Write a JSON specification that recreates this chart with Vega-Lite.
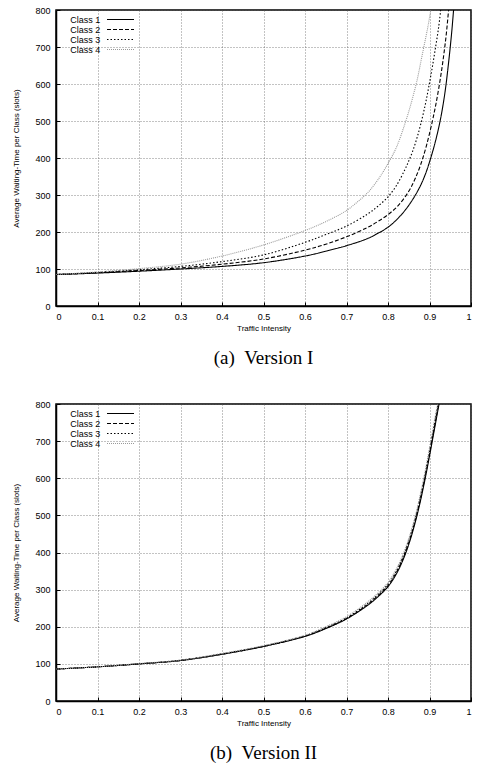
{
  "$schema": "https://vega.github.io/schema/vega-lite/v6.json",
  "padding": {"left": 12, "top": 5, "right": 5, "bottom": 0},
  "background": "white",
  "datasets": {
    "v1": [
      {"class": "Class 1", "x": 0, "y": 85}, {"class": "Class 1", "x": 0.1, "y": 89}, {"class": "Class 1", "x": 0.2, "y": 94}, {"class": "Class 1", "x": 0.3, "y": 100}, {"class": "Class 1", "x": 0.4, "y": 107}, {"class": "Class 1", "x": 0.5, "y": 117}, {"class": "Class 1", "x": 0.6, "y": 135}, {"class": "Class 1", "x": 0.65, "y": 148}, {"class": "Class 1", "x": 0.7, "y": 163}, {"class": "Class 1", "x": 0.75, "y": 182}, {"class": "Class 1", "x": 0.775, "y": 196}, {"class": "Class 1", "x": 0.8, "y": 213}, {"class": "Class 1", "x": 0.825, "y": 238}, {"class": "Class 1", "x": 0.85, "y": 272}, {"class": "Class 1", "x": 0.875, "y": 318}, {"class": "Class 1", "x": 0.89, "y": 356}, {"class": "Class 1", "x": 0.903, "y": 400}, {"class": "Class 1", "x": 0.915, "y": 448}, {"class": "Class 1", "x": 0.927, "y": 508}, {"class": "Class 1", "x": 0.935, "y": 560}, {"class": "Class 1", "x": 0.94, "y": 600}, {"class": "Class 1", "x": 0.945, "y": 648}, {"class": "Class 1", "x": 0.95, "y": 700}, {"class": "Class 1", "x": 0.954, "y": 746}, {"class": "Class 1", "x": 0.958, "y": 800},
      {"class": "Class 2", "x": 0, "y": 85}, {"class": "Class 2", "x": 0.1, "y": 90}, {"class": "Class 2", "x": 0.2, "y": 96}, {"class": "Class 2", "x": 0.3, "y": 103}, {"class": "Class 2", "x": 0.4, "y": 113}, {"class": "Class 2", "x": 0.5, "y": 127}, {"class": "Class 2", "x": 0.6, "y": 151}, {"class": "Class 2", "x": 0.65, "y": 167}, {"class": "Class 2", "x": 0.7, "y": 187}, {"class": "Class 2", "x": 0.75, "y": 212}, {"class": "Class 2", "x": 0.775, "y": 228}, {"class": "Class 2", "x": 0.8, "y": 247}, {"class": "Class 2", "x": 0.825, "y": 272}, {"class": "Class 2", "x": 0.85, "y": 310}, {"class": "Class 2", "x": 0.865, "y": 343}, {"class": "Class 2", "x": 0.879, "y": 383}, {"class": "Class 2", "x": 0.893, "y": 435}, {"class": "Class 2", "x": 0.907, "y": 500}, {"class": "Class 2", "x": 0.915, "y": 543}, {"class": "Class 2", "x": 0.923, "y": 593}, {"class": "Class 2", "x": 0.93, "y": 643}, {"class": "Class 2", "x": 0.935, "y": 684}, {"class": "Class 2", "x": 0.94, "y": 730}, {"class": "Class 2", "x": 0.946, "y": 800},
      {"class": "Class 3", "x": 0, "y": 85}, {"class": "Class 3", "x": 0.1, "y": 91}, {"class": "Class 3", "x": 0.2, "y": 98}, {"class": "Class 3", "x": 0.3, "y": 107}, {"class": "Class 3", "x": 0.4, "y": 120}, {"class": "Class 3", "x": 0.5, "y": 138}, {"class": "Class 3", "x": 0.6, "y": 172}, {"class": "Class 3", "x": 0.65, "y": 193}, {"class": "Class 3", "x": 0.7, "y": 216}, {"class": "Class 3", "x": 0.75, "y": 248}, {"class": "Class 3", "x": 0.775, "y": 269}, {"class": "Class 3", "x": 0.8, "y": 295}, {"class": "Class 3", "x": 0.82, "y": 325}, {"class": "Class 3", "x": 0.84, "y": 367}, {"class": "Class 3", "x": 0.85, "y": 392}, {"class": "Class 3", "x": 0.86, "y": 420}, {"class": "Class 3", "x": 0.87, "y": 455}, {"class": "Class 3", "x": 0.879, "y": 492}, {"class": "Class 3", "x": 0.89, "y": 545}, {"class": "Class 3", "x": 0.899, "y": 597}, {"class": "Class 3", "x": 0.907, "y": 647}, {"class": "Class 3", "x": 0.915, "y": 702}, {"class": "Class 3", "x": 0.922, "y": 753}, {"class": "Class 3", "x": 0.927, "y": 800},
      {"class": "Class 4", "x": 0, "y": 85}, {"class": "Class 4", "x": 0.1, "y": 92}, {"class": "Class 4", "x": 0.2, "y": 101}, {"class": "Class 4", "x": 0.3, "y": 113}, {"class": "Class 4", "x": 0.4, "y": 135}, {"class": "Class 4", "x": 0.5, "y": 165}, {"class": "Class 4", "x": 0.6, "y": 204}, {"class": "Class 4", "x": 0.65, "y": 228}, {"class": "Class 4", "x": 0.7, "y": 258}, {"class": "Class 4", "x": 0.725, "y": 280}, {"class": "Class 4", "x": 0.75, "y": 305}, {"class": "Class 4", "x": 0.775, "y": 340}, {"class": "Class 4", "x": 0.8, "y": 385}, {"class": "Class 4", "x": 0.82, "y": 428}, {"class": "Class 4", "x": 0.84, "y": 490}, {"class": "Class 4", "x": 0.855, "y": 545}, {"class": "Class 4", "x": 0.87, "y": 610}, {"class": "Class 4", "x": 0.88, "y": 665}, {"class": "Class 4", "x": 0.89, "y": 720}, {"class": "Class 4", "x": 0.897, "y": 760}, {"class": "Class 4", "x": 0.903, "y": 800}
    ],
    "v2": [
      {"class": "Class 1", "x": 0, "y": 86}, {"class": "Class 1", "x": 0.1, "y": 92}, {"class": "Class 1", "x": 0.2, "y": 100}, {"class": "Class 1", "x": 0.3, "y": 109}, {"class": "Class 1", "x": 0.4, "y": 126}, {"class": "Class 1", "x": 0.5, "y": 147}, {"class": "Class 1", "x": 0.6, "y": 174}, {"class": "Class 1", "x": 0.65, "y": 195}, {"class": "Class 1", "x": 0.7, "y": 221}, {"class": "Class 1", "x": 0.75, "y": 257}, {"class": "Class 1", "x": 0.775, "y": 280}, {"class": "Class 1", "x": 0.8, "y": 308}, {"class": "Class 1", "x": 0.82, "y": 342}, {"class": "Class 1", "x": 0.838, "y": 385}, {"class": "Class 1", "x": 0.853, "y": 432}, {"class": "Class 1", "x": 0.867, "y": 487}, {"class": "Class 1", "x": 0.877, "y": 533}, {"class": "Class 1", "x": 0.887, "y": 585}, {"class": "Class 1", "x": 0.897, "y": 642}, {"class": "Class 1", "x": 0.907, "y": 702}, {"class": "Class 1", "x": 0.916, "y": 757}, {"class": "Class 1", "x": 0.923, "y": 800},
      {"class": "Class 2", "x": 0, "y": 86}, {"class": "Class 2", "x": 0.1, "y": 92}, {"class": "Class 2", "x": 0.2, "y": 100}, {"class": "Class 2", "x": 0.3, "y": 109}, {"class": "Class 2", "x": 0.4, "y": 126}, {"class": "Class 2", "x": 0.5, "y": 147}, {"class": "Class 2", "x": 0.6, "y": 175}, {"class": "Class 2", "x": 0.65, "y": 196}, {"class": "Class 2", "x": 0.7, "y": 222}, {"class": "Class 2", "x": 0.75, "y": 259}, {"class": "Class 2", "x": 0.775, "y": 283}, {"class": "Class 2", "x": 0.8, "y": 311}, {"class": "Class 2", "x": 0.82, "y": 346}, {"class": "Class 2", "x": 0.838, "y": 389}, {"class": "Class 2", "x": 0.853, "y": 437}, {"class": "Class 2", "x": 0.867, "y": 492}, {"class": "Class 2", "x": 0.877, "y": 539}, {"class": "Class 2", "x": 0.887, "y": 591}, {"class": "Class 2", "x": 0.897, "y": 648}, {"class": "Class 2", "x": 0.907, "y": 709}, {"class": "Class 2", "x": 0.916, "y": 764}, {"class": "Class 2", "x": 0.922, "y": 800},
      {"class": "Class 3", "x": 0, "y": 86}, {"class": "Class 3", "x": 0.1, "y": 92}, {"class": "Class 3", "x": 0.2, "y": 100}, {"class": "Class 3", "x": 0.3, "y": 110}, {"class": "Class 3", "x": 0.4, "y": 127}, {"class": "Class 3", "x": 0.5, "y": 148}, {"class": "Class 3", "x": 0.6, "y": 176}, {"class": "Class 3", "x": 0.65, "y": 198}, {"class": "Class 3", "x": 0.7, "y": 224}, {"class": "Class 3", "x": 0.75, "y": 262}, {"class": "Class 3", "x": 0.775, "y": 286}, {"class": "Class 3", "x": 0.8, "y": 315}, {"class": "Class 3", "x": 0.82, "y": 350}, {"class": "Class 3", "x": 0.838, "y": 394}, {"class": "Class 3", "x": 0.853, "y": 442}, {"class": "Class 3", "x": 0.867, "y": 497}, {"class": "Class 3", "x": 0.877, "y": 545}, {"class": "Class 3", "x": 0.887, "y": 597}, {"class": "Class 3", "x": 0.897, "y": 655}, {"class": "Class 3", "x": 0.907, "y": 716}, {"class": "Class 3", "x": 0.915, "y": 767}, {"class": "Class 3", "x": 0.921, "y": 800},
      {"class": "Class 4", "x": 0, "y": 86}, {"class": "Class 4", "x": 0.1, "y": 92}, {"class": "Class 4", "x": 0.2, "y": 101}, {"class": "Class 4", "x": 0.3, "y": 110}, {"class": "Class 4", "x": 0.4, "y": 128}, {"class": "Class 4", "x": 0.5, "y": 149}, {"class": "Class 4", "x": 0.6, "y": 177}, {"class": "Class 4", "x": 0.65, "y": 200}, {"class": "Class 4", "x": 0.7, "y": 227}, {"class": "Class 4", "x": 0.75, "y": 266}, {"class": "Class 4", "x": 0.775, "y": 290}, {"class": "Class 4", "x": 0.8, "y": 319}, {"class": "Class 4", "x": 0.82, "y": 355}, {"class": "Class 4", "x": 0.838, "y": 400}, {"class": "Class 4", "x": 0.853, "y": 448}, {"class": "Class 4", "x": 0.867, "y": 504}, {"class": "Class 4", "x": 0.877, "y": 552}, {"class": "Class 4", "x": 0.887, "y": 605}, {"class": "Class 4", "x": 0.897, "y": 663}, {"class": "Class 4", "x": 0.907, "y": 724}, {"class": "Class 4", "x": 0.914, "y": 768}, {"class": "Class 4", "x": 0.92, "y": 800}
    ]
  },
  "vconcat": [
    {
      "width": 415, "height": 296,
      "data": {"name": "v1"},
      "title": {"text": "(a)\u00a0\u00a0Version I", "orient": "bottom", "font": "Liberation Serif", "fontSize": 19, "fontWeight": "normal", "offset": 17, "color": "black"},
      "mark": {"type": "line", "clip": true, "interpolate": "catmull-rom", "strokeWidth": 1.1},
      "encoding": {
        "x": {"field": "x", "type": "quantitative", "scale": {"domain": [0, 1]}, "axis": {"title": "Traffic Intensity", "values": [0, 0.1, 0.2, 0.3, 0.4, 0.5, 0.6, 0.7, 0.8, 0.9, 1], "format": "~g", "titlePadding": 3}},
        "y": {"field": "y", "type": "quantitative", "scale": {"domain": [0, 800]}, "axis": {"title": "Average Waiting-Time per Class (slots)", "values": [0, 100, 200, 300, 400, 500, 600, 700, 800], "titlePadding": 14}},
        "color": {"field": "class", "type": "nominal", "scale": {"domain": ["Class 1", "Class 2", "Class 3", "Class 4"], "range": ["#000000", "#000000", "#000000", "#999999"]},
          "legend": {"orient": "none", "legendX": 60, "legendY": 5, "title": null, "symbolType": "M-6,0L6,0", "symbolSize": 20.25, "labelAlign": "right", "labelOffset": -24.75, "rowPadding": 0, "symbolStrokeWidth": 1.2}},
        "strokeDash": {"field": "class", "type": "nominal", "scale": {"domain": ["Class 1", "Class 2", "Class 3", "Class 4"], "range": [[1, 0], [4, 2], [1.5, 2], [1, 1]]},
          "legend": {"orient": "none", "legendX": 60, "legendY": 5, "title": null, "symbolType": "M-6,0L6,0", "symbolSize": 20.25, "labelAlign": "right", "labelOffset": -24.75, "rowPadding": 0, "symbolStrokeWidth": 1.2}}
      }
    },
    {
      "width": 415, "height": 297,
      "data": {"name": "v2"},
      "title": {"text": "(b)\u00a0\u00a0Version II", "orient": "bottom", "font": "Liberation Serif", "fontSize": 19, "fontWeight": "normal", "offset": 17, "color": "black"},
      "mark": {"type": "line", "clip": true, "interpolate": "catmull-rom", "strokeWidth": 1.1},
      "encoding": {
        "x": {"field": "x", "type": "quantitative", "scale": {"domain": [0, 1]}, "axis": {"title": "Traffic Intensity", "values": [0, 0.1, 0.2, 0.3, 0.4, 0.5, 0.6, 0.7, 0.8, 0.9, 1], "format": "~g", "titlePadding": 3}},
        "y": {"field": "y", "type": "quantitative", "scale": {"domain": [0, 800]}, "axis": {"title": "Average Waiting-Time per Class (slots)", "values": [0, 100, 200, 300, 400, 500, 600, 700, 800], "titlePadding": 14}},
        "color": {"field": "class", "type": "nominal", "scale": {"domain": ["Class 1", "Class 2", "Class 3", "Class 4"], "range": ["#000000", "#000000", "#000000", "#999999"]},
          "legend": {"orient": "none", "legendX": 60, "legendY": 5, "title": null, "symbolType": "M-6,0L6,0", "symbolSize": 20.25, "labelAlign": "right", "labelOffset": -24.75, "rowPadding": 0, "symbolStrokeWidth": 1.2}},
        "strokeDash": {"field": "class", "type": "nominal", "scale": {"domain": ["Class 1", "Class 2", "Class 3", "Class 4"], "range": [[1, 0], [4, 2], [1.5, 2], [1, 1]]},
          "legend": {"orient": "none", "legendX": 60, "legendY": 5, "title": null, "symbolType": "M-6,0L6,0", "symbolSize": 20.25, "labelAlign": "right", "labelOffset": -24.75, "rowPadding": 0, "symbolStrokeWidth": 1.2}}
      }
    }
  ],
  "spacing": 30,
  "resolve": {"scale": {"color": "independent", "strokeDash": "independent"}},
  "config": {
    "view": {"stroke": "#000000", "strokeWidth": 1.5},
    "axis": {
      "labelFont": "Liberation Sans", "labelFontSize": 9, "labelColor": "#000000",
      "titleFont": "Liberation Sans", "titleFontSize": 8, "titleFontWeight": "normal", "titleColor": "#000000",
      "domainColor": "#000000", "domainWidth": 1.5,
      "grid": true, "gridColor": "#555555", "gridDash": [1, 2], "gridWidth": 0.7,
      "ticks": true, "tickColor": "#000000", "tickSize": -4, "labelPadding": 10
    },
    "legend": {"labelFont": "Liberation Sans", "labelFontSize": 9, "labelColor": "#000000", "labelBaseline": "middle"}
  }
}
